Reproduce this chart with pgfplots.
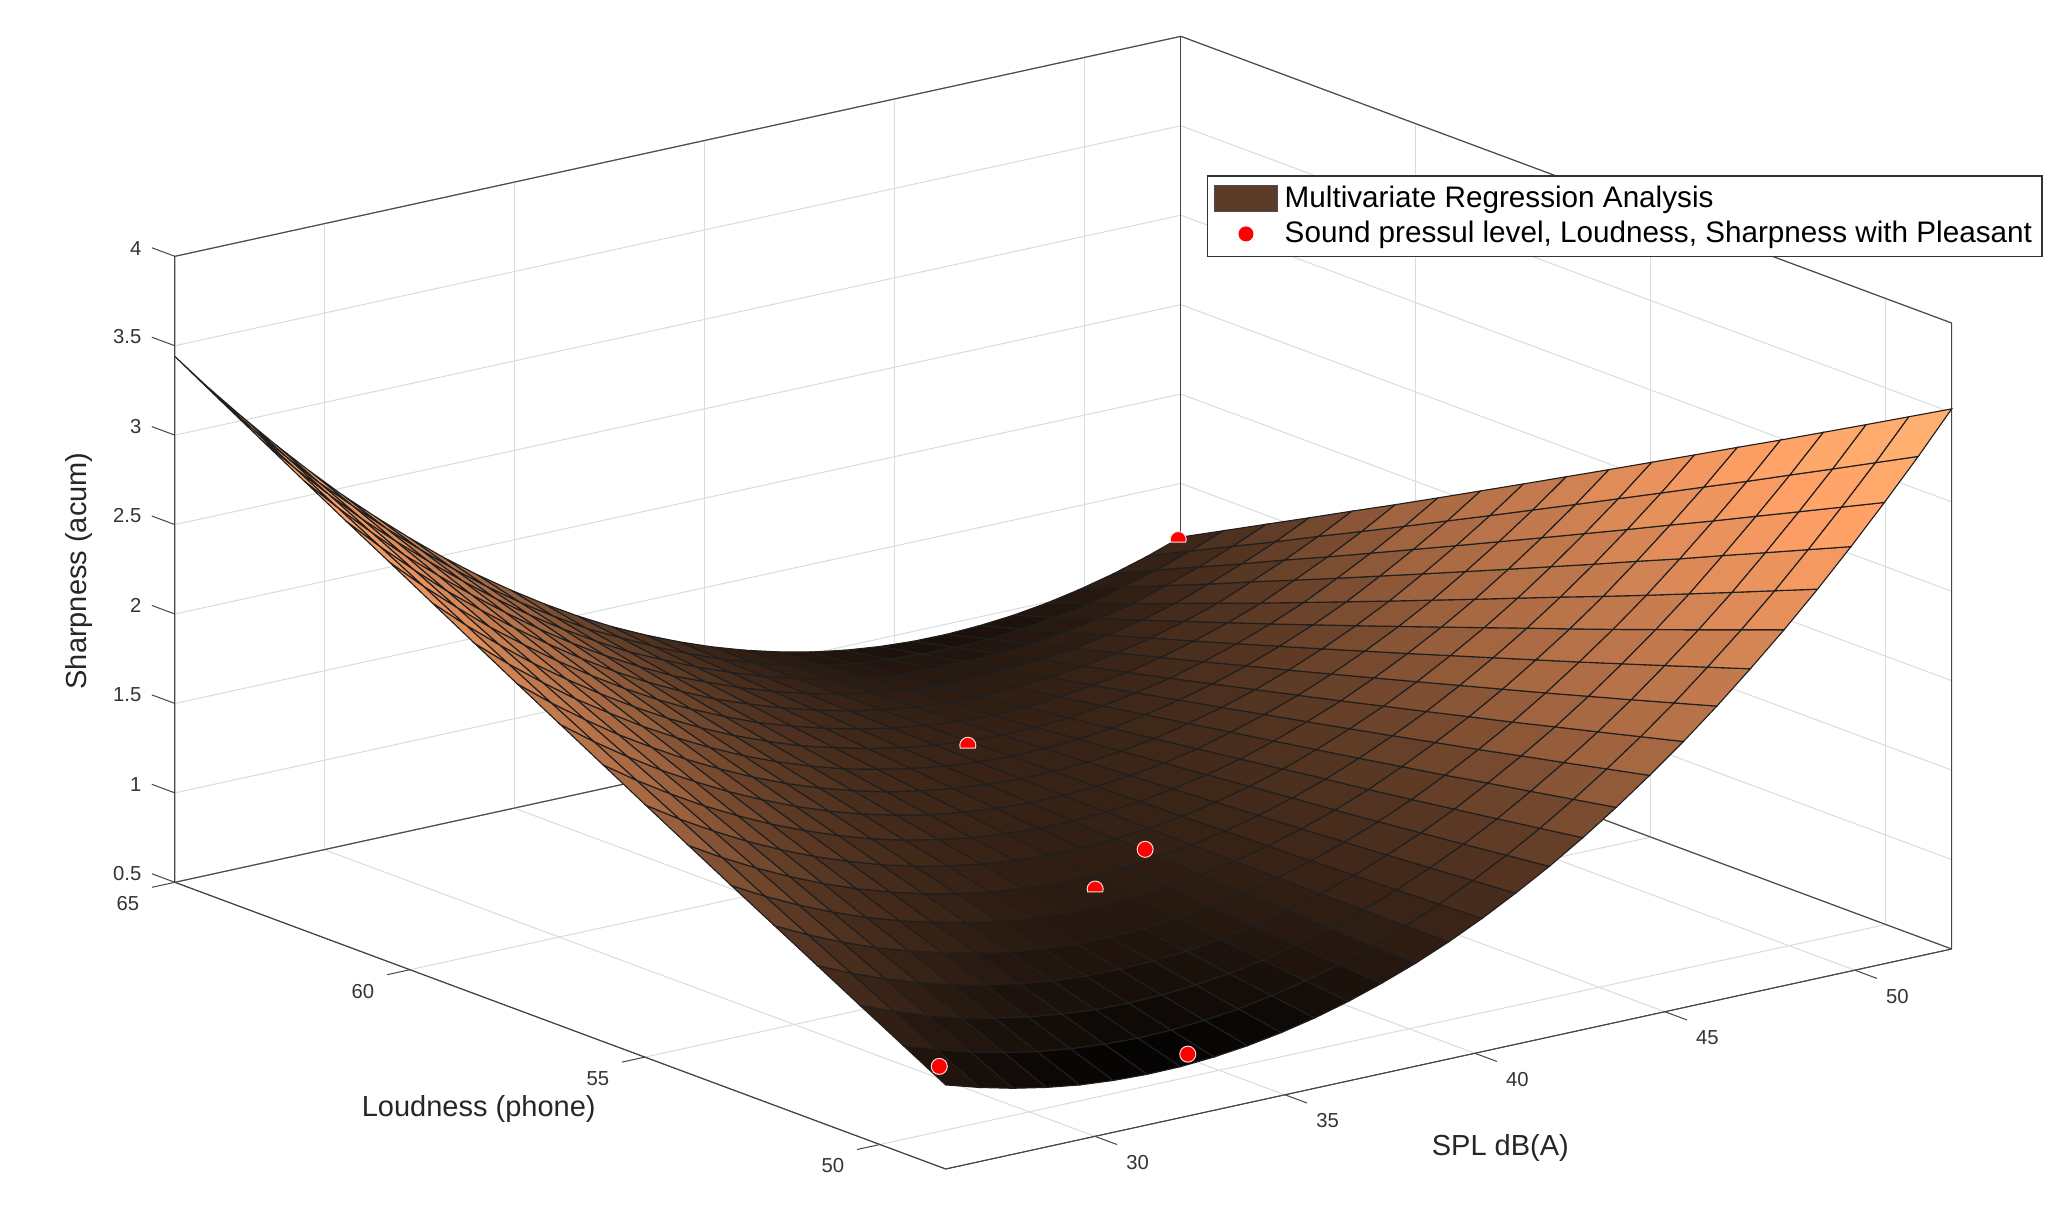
\documentclass[border=0pt]{standalone}
\usepackage{fontspec}
\setmainfont{Liberation Sans}
\usepackage{pgfplots}
\pgfplotsset{compat=1.18}
\definecolor{legbrown}{RGB}{92,60,40}
\definecolor{axgray}{RGB}{70,70,70}
\pgfdeclareplotmark{capmark}{%
  \pgfpathmoveto{\pgfqpointpolar{200}{\pgfplotmarksize}}%
  \pgfpatharc{200}{-20}{\pgfplotmarksize}%
  \pgfpathclose
  \pgfusepathqfillstroke}
\begin{document}
\begin{tikzpicture}
\begin{axis}[
  x={(15.196pt,3.323pt)}, y={(-18.8pt,6.992pt)}, z={(0pt,71.54pt)},
  xmin=26.07, xmax=52.55, ymin=48.6, ymax=65, zmin=0.5, zmax=4,
  xtick={30,35,40,45,50}, ytick={50,55,60,65}, ztick={0.5,1,1.5,2,2.5,3,3.5,4},
  xtick pos=left, ytick pos=left, ztick pos=left,
  /pgf/number format/assume math mode=true,
  scaled ticks=false,
  grid=major, grid style={black!14, line width=0.4pt},
  axis line style={axgray, line width=0.4pt},
  major tick length=9.5pt, tick align=outside,
  tick style={draw=none},
  tick label style={font=\fontsize{8.1}{10}\selectfont, text=black!80},
  xticklabel style={xshift=3.2pt},
  yticklabel style={xshift=-3.7pt,yshift=0.7pt},
  zticklabel style={xshift=-1pt,yshift=-0.4pt},
  xlabel={SPL dB(A)}, ylabel={Loudness (phone)}, zlabel={Sharpness (acum)},
  label style={font=\fontsize{11.6}{13}\selectfont, text=black!85},
  xlabel style={at={(axis description cs:0.746,0.0187)},anchor=center},
  ylabel style={at={(axis description cs:0.171,0.0526)},anchor=center},
  zlabel style={at={(axis description cs:-0.054,0.528)},anchor=center,rotate=0},
  colormap={copperc}{rgb=(0,0,0) rgb=(.114,.071,.045) rgb=(.226,.141,.090) rgb=(.338,.211,.134) rgb=(.473,.295,.188) rgb=(.623,.389,.248) rgb=(.713,.445,.284) rgb=(.776,.485,.309) rgb=(.875,.547,.348) rgb=(.9375,.586,.373) rgb=(1,.625,.398) rgb=(1,.656,.418) rgb=(1,.680,.433) rgb=(1,.703,.448) rgb=(1,.734,.468)},
  point meta min=0.78, point meta max=3.7,
  clip=false,
  legend style={at={(axis description cs:0.5808,0.8772)},anchor=north west,
    font=\fontsize{11.87}{13.8}\selectfont, draw=black!80, line width=0.5pt,
    inner xsep=2pt, inner ysep=2pt, legend cell align=left, row sep=0pt},
]
\draw[axgray,line width=0.4pt] (axis cs:26.07,65,4) -- (axis cs:52.55,65,4) -- (axis cs:52.55,48.6,4) -- (axis cs:52.55,48.6,0.5) -- (axis cs:26.07,48.6,0.5) -- (axis cs:26.07,65,0.5) -- (axis cs:26.07,65,4);
\draw[axgray,line width=0.4pt] (axis cs:52.55,65,4) -- (axis cs:52.55,65,0.5);
\draw[axgray,line width=0.4pt] (axis cs:26.07,65,0.5) -- (axis cs:52.55,65,0.5) -- (axis cs:52.55,48.6,0.5);
\pgfplotsinvokeforeach{30,35,40,45,50}{\draw[axgray,line width=0.4pt] (axis cs:#1,48.6,0.5) -- (axis cs:#1,48.13,0.5);}
\pgfplotsinvokeforeach{50,55,60,65}{\draw[axgray,line width=0.4pt] (axis cs:26.07,#1,0.5) -- (axis cs:25.47,#1,0.5);}
\pgfplotsinvokeforeach{0.5,1,1.5,2,2.5,3,3.5,4}{\draw[axgray,line width=0.4pt] (axis cs:26.07,65,#1) -- (axis cs:26.07,65.49,#1);}
\addplot3[surf, shader=faceted, faceted color=black!88, line width=0.45pt, z buffer=sort, mesh/rows=19, mesh/cols=31, forget plot] table {
26.07 48.60 0.970
26.95 48.60 0.915
27.84 48.60 0.869
28.72 48.60 0.833
29.60 48.60 0.806
30.48 48.60 0.790
31.37 48.60 0.783
32.25 48.60 0.785
33.13 48.60 0.798
34.01 48.60 0.820
34.90 48.60 0.852
35.78 48.60 0.893
36.66 48.60 0.944
37.54 48.60 1.005
38.43 48.60 1.075
39.31 48.60 1.155
40.19 48.60 1.245
41.07 48.60 1.345
41.96 48.60 1.454
42.84 48.60 1.573
43.72 48.60 1.702
44.60 48.60 1.840
45.49 48.60 1.988
46.37 48.60 2.145
47.25 48.60 2.313
48.14 48.60 2.490
49.02 48.60 2.676
49.90 48.60 2.873
50.78 48.60 3.079
51.67 48.60 3.295
52.55 48.60 3.520
26.07 49.51 1.103
26.95 49.51 1.039
27.84 49.51 0.984
28.72 49.51 0.939
29.60 49.51 0.904
30.48 49.51 0.879
31.37 49.51 0.863
32.25 49.51 0.856
33.13 49.51 0.860
34.01 49.51 0.873
34.90 49.51 0.896
35.78 49.51 0.928
36.66 49.51 0.971
37.54 49.51 1.023
38.43 49.51 1.084
39.31 49.51 1.155
40.19 49.51 1.236
41.07 49.51 1.327
41.96 49.51 1.427
42.84 49.51 1.537
43.72 49.51 1.658
44.60 49.51 1.787
45.49 49.51 1.926
46.37 49.51 2.074
47.25 49.51 2.233
48.14 49.51 2.401
49.02 49.51 2.578
49.90 49.51 2.767
50.78 49.51 2.964
51.67 49.51 3.171
52.55 49.51 3.387
26.07 50.42 1.236
26.95 50.42 1.163
27.84 50.42 1.099
28.72 50.42 1.045
29.60 50.42 1.002
30.48 50.42 0.968
31.37 50.42 0.943
32.25 50.42 0.927
33.13 50.42 0.922
34.01 50.42 0.926
34.90 50.42 0.940
35.78 50.42 0.963
36.66 50.42 0.998
37.54 50.42 1.041
38.43 50.42 1.093
39.31 50.42 1.155
40.19 50.42 1.227
41.07 50.42 1.309
41.96 50.42 1.400
42.84 50.42 1.501
43.72 50.42 1.614
44.60 50.42 1.734
45.49 50.42 1.864
46.37 50.42 2.003
47.25 50.42 2.153
48.14 50.42 2.312
49.02 50.42 2.480
49.90 50.42 2.661
50.78 50.42 2.849
51.67 50.42 3.047
52.55 50.42 3.254
26.07 51.33 1.370
26.95 51.33 1.288
27.84 51.33 1.215
28.72 51.33 1.152
29.60 51.33 1.101
30.48 51.33 1.058
31.37 51.33 1.024
32.25 51.33 0.999
33.13 51.33 0.985
34.01 51.33 0.980
34.90 51.33 0.985
35.78 51.33 0.999
36.66 51.33 1.026
37.54 51.33 1.060
38.43 51.33 1.103
39.31 51.33 1.156
40.19 51.33 1.219
41.07 51.33 1.292
41.96 51.33 1.374
42.84 51.33 1.466
43.72 51.33 1.571
44.60 51.33 1.682
45.49 51.33 1.803
46.37 51.33 1.933
47.25 51.33 2.074
48.14 51.33 2.224
49.02 51.33 2.383
49.90 51.33 2.556
50.78 51.33 2.735
51.67 51.33 2.924
52.55 51.33 3.122
26.07 52.24 1.504
26.95 52.24 1.413
27.84 52.24 1.331
28.72 52.24 1.259
29.60 52.24 1.200
30.48 52.24 1.148
31.37 52.24 1.105
32.25 52.24 1.071
33.13 52.24 1.048
34.01 52.24 1.034
34.90 52.24 1.030
35.78 52.24 1.035
36.66 52.24 1.053
37.54 52.24 1.079
38.43 52.24 1.113
39.31 52.24 1.157
40.19 52.24 1.211
41.07 52.24 1.275
41.96 52.24 1.348
42.84 52.24 1.431
43.72 52.24 1.526
44.60 52.24 1.629
45.49 52.24 1.741
46.37 52.24 1.863
47.25 52.24 1.995
48.14 52.24 2.136
49.02 52.24 2.286
49.90 52.24 2.449
50.78 52.24 2.620
51.67 52.24 2.800
52.55 52.24 2.990
26.07 53.16 1.639
26.95 53.16 1.539
27.84 53.16 1.448
28.72 53.16 1.368
29.60 53.16 1.298
30.48 53.16 1.238
31.37 53.16 1.187
32.25 53.16 1.144
33.13 53.16 1.112
34.01 53.16 1.089
34.90 53.16 1.076
35.78 53.16 1.072
36.66 53.16 1.082
37.54 53.16 1.099
38.43 53.16 1.124
39.31 53.16 1.159
40.19 53.16 1.204
41.07 53.16 1.259
41.96 53.16 1.323
42.84 53.16 1.397
43.72 53.16 1.484
44.60 53.16 1.578
45.49 53.16 1.681
46.37 53.16 1.794
47.25 53.16 1.917
48.14 53.16 2.049
49.02 53.16 2.190
49.90 53.16 2.345
50.78 53.16 2.507
51.67 53.16 2.678
52.55 53.16 2.859
26.07 54.07 1.774
26.95 54.07 1.666
27.84 54.07 1.567
28.72 54.07 1.478
29.60 54.07 1.398
30.48 54.07 1.328
31.37 54.07 1.268
32.25 54.07 1.217
33.13 54.07 1.176
34.01 54.07 1.145
34.90 54.07 1.124
35.78 54.07 1.112
36.66 54.07 1.110
37.54 54.07 1.117
38.43 54.07 1.135
39.31 54.07 1.162
40.19 54.07 1.198
41.07 54.07 1.245
41.96 54.07 1.301
42.84 54.07 1.366
43.72 54.07 1.442
44.60 54.07 1.527
45.49 54.07 1.621
46.37 54.07 1.726
47.25 54.07 1.840
48.14 54.07 1.964
49.02 54.07 2.097
49.90 54.07 2.240
50.78 54.07 2.393
51.67 54.07 2.556
52.55 54.07 2.728
26.07 54.98 1.910
26.95 54.98 1.793
27.84 54.98 1.685
28.72 54.98 1.587
29.60 54.98 1.499
30.48 54.98 1.420
31.37 54.98 1.351
32.25 54.98 1.291
33.13 54.98 1.241
34.01 54.98 1.201
34.90 54.98 1.171
35.78 54.98 1.150
36.66 54.98 1.140
37.54 54.98 1.138
38.43 54.98 1.147
39.31 54.98 1.165
40.19 54.98 1.192
41.07 54.98 1.230
41.96 54.98 1.277
42.84 54.98 1.333
43.72 54.98 1.401
44.60 54.98 1.477
45.49 54.98 1.562
46.37 54.98 1.658
47.25 54.98 1.763
48.14 54.98 1.878
49.02 54.98 2.002
49.90 54.98 2.137
50.78 54.98 2.281
51.67 54.98 2.435
52.55 54.98 2.598
26.07 55.89 2.047
26.95 55.89 1.920
27.84 55.89 1.803
28.72 55.89 1.696
29.60 55.89 1.600
30.48 55.89 1.512
31.37 55.89 1.434
32.25 55.89 1.365
33.13 55.89 1.306
34.01 55.89 1.257
34.90 55.89 1.218
35.78 55.89 1.188
36.66 55.89 1.170
37.54 55.89 1.159
38.43 55.89 1.159
39.31 55.89 1.168
40.19 55.89 1.186
41.07 55.89 1.215
41.96 55.89 1.253
42.84 55.89 1.300
43.72 55.89 1.360
44.60 55.89 1.427
45.49 55.89 1.503
46.37 55.89 1.590
47.25 55.89 1.686
48.14 55.89 1.792
49.02 55.89 1.907
49.90 55.89 2.034
50.78 55.89 2.169
51.67 55.89 2.314
52.55 55.89 2.468
26.07 56.80 2.184
26.95 56.80 2.048
27.84 56.80 1.922
28.72 56.80 1.806
29.60 56.80 1.702
30.48 56.80 1.605
31.37 56.80 1.518
32.25 56.80 1.440
33.13 56.80 1.372
34.01 56.80 1.314
34.90 56.80 1.266
35.78 56.80 1.227
36.66 56.80 1.201
37.54 56.80 1.181
38.43 56.80 1.172
39.31 56.80 1.172
40.19 56.80 1.181
41.07 56.80 1.201
41.96 56.80 1.230
42.84 56.80 1.268
43.72 56.80 1.320
44.60 56.80 1.378
45.49 56.80 1.445
46.37 56.80 1.523
47.25 56.80 1.610
48.14 56.80 1.707
49.02 56.80 1.813
49.90 56.80 1.932
50.78 56.80 2.058
51.67 56.80 2.194
52.55 56.80 2.339
26.07 57.71 2.321
26.95 57.71 2.176
27.84 57.71 2.041
28.72 57.71 1.916
29.60 57.71 1.804
30.48 57.71 1.698
31.37 57.71 1.602
32.25 57.71 1.515
33.13 57.71 1.438
34.01 57.71 1.371
34.90 57.71 1.314
35.78 57.71 1.266
36.66 57.71 1.232
37.54 57.71 1.203
38.43 57.71 1.185
39.31 57.71 1.176
40.19 57.71 1.176
41.07 57.71 1.187
41.96 57.71 1.207
42.84 57.71 1.236
43.72 57.71 1.280
44.60 57.71 1.329
45.49 57.71 1.387
46.37 57.71 1.456
47.25 57.71 1.534
48.14 57.71 1.622
49.02 57.71 1.719
49.90 57.71 1.830
50.78 57.71 1.947
51.67 57.71 2.074
52.55 57.71 2.210
26.07 58.62 2.459
26.95 58.62 2.305
27.84 58.62 2.161
28.72 58.62 2.027
29.60 58.62 1.907
30.48 58.62 1.792
31.37 58.62 1.687
32.25 58.62 1.591
33.13 58.62 1.505
34.01 58.62 1.429
34.90 58.62 1.363
35.78 58.62 1.306
36.66 58.62 1.263
37.54 58.62 1.226
38.43 58.62 1.199
39.31 58.62 1.181
40.19 58.62 1.172
41.07 58.62 1.174
41.96 58.62 1.185
42.84 58.62 1.205
43.72 58.62 1.241
44.60 58.62 1.281
45.49 58.62 1.330
46.37 58.62 1.390
47.25 58.62 1.459
48.14 58.62 1.538
49.02 58.62 1.626
49.90 58.62 1.729
50.78 58.62 1.837
51.67 58.62 1.955
52.55 58.62 2.082
26.07 59.53 2.598
26.95 59.53 2.434
27.84 59.53 2.281
28.72 59.53 2.138
29.60 59.53 2.008
30.48 59.53 1.886
31.37 59.53 1.772
32.25 59.53 1.667
33.13 59.53 1.572
34.01 59.53 1.487
34.90 59.53 1.412
35.78 59.53 1.346
36.66 59.53 1.295
37.54 59.53 1.249
38.43 59.53 1.213
39.31 59.53 1.186
40.19 59.53 1.168
41.07 59.53 1.161
41.96 59.53 1.163
42.84 59.53 1.174
43.72 59.53 1.200
44.60 59.53 1.233
45.49 59.53 1.273
46.37 59.53 1.324
47.25 59.53 1.384
48.14 59.53 1.454
49.02 59.53 1.533
49.90 59.53 1.628
50.78 59.53 1.727
51.67 59.53 1.836
52.55 59.53 1.954
26.07 60.44 2.737
26.95 60.44 2.564
27.84 60.44 2.402
28.72 60.44 2.250
29.60 60.44 2.112
30.48 60.44 1.981
31.37 60.44 1.858
32.25 60.44 1.744
33.13 60.44 1.640
34.01 60.44 1.546
34.90 60.44 1.462
35.78 60.44 1.387
36.66 60.44 1.327
37.54 60.44 1.273
38.43 60.44 1.228
39.31 60.44 1.192
40.19 60.44 1.165
41.07 60.44 1.149
41.96 60.44 1.142
42.84 60.44 1.144
43.72 60.44 1.162
44.60 60.44 1.186
45.49 60.44 1.217
46.37 60.44 1.259
47.25 60.44 1.310
48.14 60.44 1.371
49.02 60.44 1.441
49.90 60.44 1.528
50.78 60.44 1.618
51.67 60.44 1.718
52.55 60.44 1.827
26.07 61.36 2.876
26.95 61.36 2.695
27.84 61.36 2.524
28.72 61.36 2.363
29.60 61.36 2.217
30.48 61.36 2.077
31.37 61.36 1.945
32.25 61.36 1.822
33.13 61.36 1.709
34.01 61.36 1.606
34.90 61.36 1.513
35.78 61.36 1.429
36.66 61.36 1.361
37.54 61.36 1.298
38.43 61.36 1.244
39.31 61.36 1.199
40.19 61.36 1.163
41.07 61.36 1.138
41.96 61.36 1.122
42.84 61.36 1.115
43.72 61.36 1.125
44.60 61.36 1.140
45.49 61.36 1.162
46.37 61.36 1.195
47.25 61.36 1.237
48.14 61.36 1.289
49.02 61.36 1.350
49.90 61.36 1.429
50.78 61.36 1.510
51.67 61.36 1.601
52.55 61.36 1.701
26.07 62.27 3.016
26.95 62.27 2.826
27.84 62.27 2.646
28.72 62.27 2.476
29.60 62.27 2.322
30.48 62.27 2.173
31.37 62.27 2.032
32.25 62.27 1.900
33.13 62.27 1.778
34.01 62.27 1.666
34.90 62.27 1.564
35.78 62.27 1.471
36.66 62.27 1.395
37.54 62.27 1.323
38.43 62.27 1.260
39.31 62.27 1.206
40.19 62.27 1.161
41.07 62.27 1.127
41.96 62.27 1.102
42.84 62.27 1.086
43.72 62.27 1.088
44.60 62.27 1.094
45.49 62.27 1.107
46.37 62.27 1.131
47.25 62.27 1.164
48.14 62.27 1.207
49.02 62.27 1.259
49.90 62.27 1.327
50.78 62.27 1.400
51.67 62.27 1.482
52.55 62.27 1.575
26.07 63.18 3.157
26.95 63.18 2.958
27.84 63.18 2.769
28.72 63.18 2.590
29.60 63.18 2.426
30.48 63.18 2.270
31.37 63.18 2.120
32.25 63.18 1.979
33.13 63.18 1.848
34.01 63.18 1.727
34.90 63.18 1.616
35.78 63.18 1.514
36.66 63.18 1.430
37.54 63.18 1.349
38.43 63.18 1.277
39.31 63.18 1.214
40.19 63.18 1.160
41.07 63.18 1.117
41.96 63.18 1.083
42.84 63.18 1.058
43.72 63.18 1.052
44.60 63.18 1.049
45.49 63.18 1.053
46.37 63.18 1.068
47.25 63.18 1.092
48.14 63.18 1.126
49.02 63.18 1.169
49.90 63.18 1.229
50.78 63.18 1.293
51.67 63.18 1.368
52.55 63.18 1.450
26.07 64.09 3.298
26.95 64.09 3.090
27.84 64.09 2.892
28.72 64.09 2.704
29.60 64.09 2.534
30.48 64.09 2.367
31.37 64.09 2.208
32.25 64.09 2.058
33.13 64.09 1.918
34.01 64.09 1.788
34.90 64.09 1.668
35.78 64.09 1.557
36.66 64.09 1.465
37.54 64.09 1.375
38.43 64.09 1.294
39.31 64.09 1.222
40.19 64.09 1.159
41.07 64.09 1.107
41.96 64.09 1.064
42.84 64.09 1.030
43.72 64.09 1.016
44.60 64.09 1.004
45.49 64.09 0.999
46.37 64.09 1.005
47.25 64.09 1.020
48.14 64.09 1.045
49.02 64.09 1.079
49.90 64.09 1.131
50.78 64.09 1.186
51.67 64.09 1.252
52.55 64.09 1.325
26.07 65.00 3.440
26.95 65.00 3.225
27.84 65.00 3.020
28.72 65.00 2.824
29.60 65.00 2.638
30.48 65.00 2.461
31.37 65.00 2.295
32.25 65.00 2.138
33.13 65.00 1.990
34.01 65.00 1.853
34.90 65.00 1.725
35.78 65.00 1.607
36.66 65.00 1.498
37.54 65.00 1.399
38.43 65.00 1.310
39.31 65.00 1.231
40.19 65.00 1.161
41.07 65.00 1.101
41.96 65.00 1.050
42.84 65.00 1.009
43.72 65.00 0.978
44.60 65.00 0.957
45.49 65.00 0.945
46.37 65.00 0.943
47.25 65.00 0.951
48.14 65.00 0.968
49.02 65.00 0.995
49.90 65.00 1.032
50.78 65.00 1.078
51.67 65.00 1.134
52.55 65.00 1.200
};
\addlegendimage{legend image code/.code={\path[draw=none] (0pt,0pt) rectangle (26.9pt,0pt);\draw[fill=legbrown,draw=black!70] (0.9pt,-5.2pt) rectangle (25.9pt,5.2pt);}}
\addlegendentry{Multivariate Regression Analysis}
\addlegendimage{legend image code/.code={\path[draw=none] (0pt,0pt) rectangle (26.9pt,0pt);\fill[red,draw=none] (13.4pt,0pt) circle (3pt);}}
\addlegendentry{Sound pressul level, Loudness, Sharpness with Pleasant}
\addplot3[only marks, mark=*, mark size=3.2pt, mark options={fill=red, draw=white!85!red, line width=0.4pt}, forget plot] coordinates {(38.52,54.42,1.14) (26.47,49.06,1.01) (32.69,48.80,0.815)};
\addplot3[only marks, mark=capmark, mark size=3.2pt, mark options={fill=red, draw=white!85!red, line width=0.4pt}, forget plot] coordinates {(40.1,59.47,1.155) (36.40,53.77,1.08) (52.48,65,1.19)};
\coordinate (c0) at (axis cs:26.07,48.6,0.5);
\end{axis}
\path ([shift={(-378.28pt,-23.6pt)}]c0) rectangle ([shift={(448.92pt,467.6pt)}]c0);
\end{tikzpicture}
\end{document}
